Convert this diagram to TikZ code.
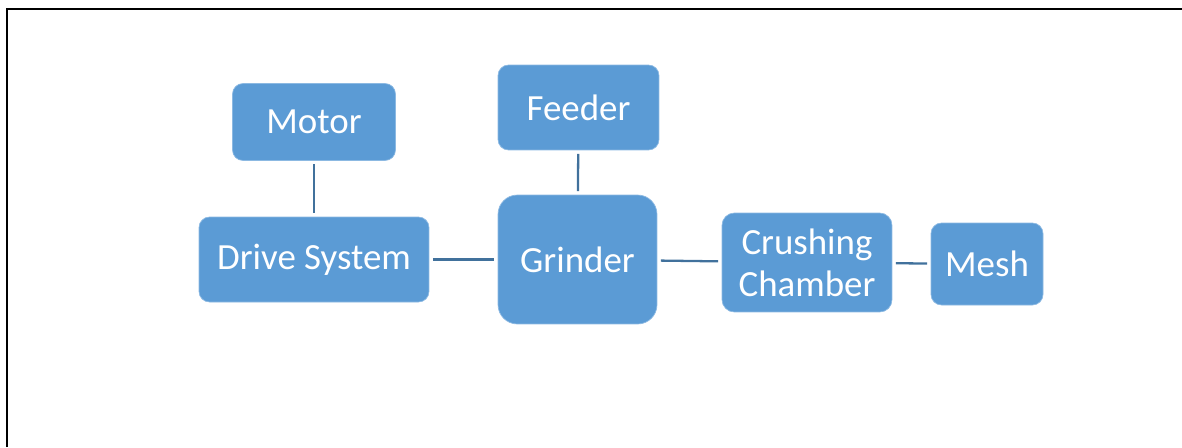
\documentclass[tikz,border=0pt]{standalone}
\usepackage{fontspec}
\setmainfont{Carlito}
\usepackage{tikz}
\usetikzlibrary{positioning}

\definecolor{boxblue}{HTML}{5B9BD5}
\definecolor{linkblue}{HTML}{41719C}

\tikzset{
  part/.style={rectangle, fill=boxblue, draw=boxblue!70!white, line width=0.4pt,
    text=white, inner sep=0pt, align=center,
    font=\fontsize{21}{24}\selectfont},
  link/.style={draw=linkblue, line width=1.3pt, shorten <=2pt, shorten >=2pt}
}

\begin{document}
\begin{tikzpicture}[x=0.02cm, y=-0.02cm]
 \useasboundingbox (0,0) rectangle (1182,447);
 % frame
 \draw [line width=1.2pt] (7,447) -- (7,9) -- (1182,9);

 \node [part, minimum width=3.26cm, minimum height=1.54cm, rounded corners=6pt] (motor) at (314,122) {Motor};
 \node [part, minimum width=4.6cm, minimum height=1.7cm, rounded corners=6pt] (drive) at (314,259.5) {Drive System};
 \node [part, minimum width=3.22cm, minimum height=1.7cm, rounded corners=6pt] (feeder) at (578.5,107.5) {Feeder};
 \node [part, minimum width=3.18cm, minimum height=2.58cm, rounded corners=11pt] (grinder) at (577.5,259.5) {Grinder};
 \node [part, minimum width=3.4cm, minimum height=1.98cm, rounded corners=7pt] (chamber) at (807,262.5) {Crushing\\Chamber};
 \node [part, minimum width=2.24cm, minimum height=1.64cm, rounded corners=6pt] (mesh) at (987,264) {Mesh};

 \draw [link] (motor) to (drive);
 \draw [link] (feeder) to (grinder);
 \draw [link] (drive) to (grinder);
 \draw [link] (grinder) to (chamber);
 \draw [link] (chamber) to (mesh);
\end{tikzpicture}
\end{document}
